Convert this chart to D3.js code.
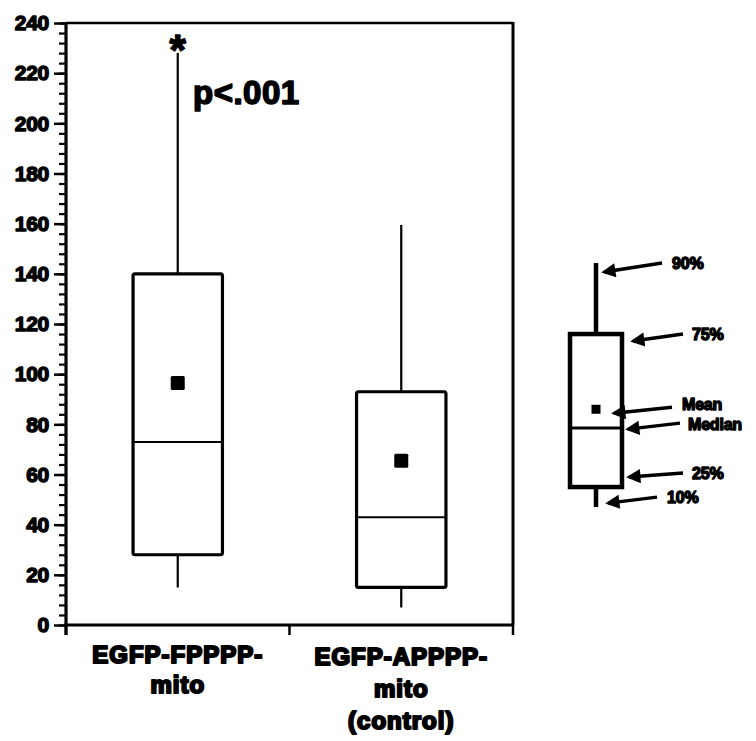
<!DOCTYPE html>
<html>
<head>
<meta charset="utf-8">
<script src="https://cdn.jsdelivr.net/npm/d3@7"></script>
<style>
  body { margin: 0; background: #fff; }
  text { font-family: "Liberation Sans", Arial, sans-serif; font-weight: bold; fill: #000; stroke: #000; stroke-linejoin: round; }
</style>
</head>
<body>
<script>
// groups and their box summaries
var groups = ["EGFP-FPPPP-|mito", "EGFP-APPPP-|mito|(control)"];
var p10 = [15, 7];
var p25 = [28, 15];
var medians = [73, 43];
var means = [96.5, 65.5];
var p75 = [140, 93];
var p90 = [228, 159.5];
var yTicks = [0, 20, 40, 60, 80, 100, 120, 140, 160, 180, 200, 220, 240];

// key box, drawn on the same value scale
var keyNames = ["10%", "25%", "Median", "Mean", "75%", "90%"];
var keyValues = [47, 55, 78.5, 86, 116, 144.3];

var width = 756, height = 741;
var svg = d3.select("body").append("svg")
  .attr("width", width)
  .attr("height", height);

var defs = svg.append("defs");
defs.append("marker")
  .attr("id", "arrow")
  .attr("viewBox", "0 0 10 10")
  .attr("refX", 8).attr("refY", 5)
  .attr("markerWidth", 5).attr("markerHeight", 4.2)
  .attr("markerUnits", "strokeWidth")
  .attr("orient", "auto")
  .append("path")
  .attr("d", "M10,5 L0,0 L0,10 Z")
  .attr("fill", "#000");

var x = d3.scaleBand().domain(groups).range([66, 513]);
var y = d3.scaleLinear().domain([0, 240]).range([625, 23]);
var boxW = x.bandwidth() * 0.4;

// frame: top and right edges
svg.append("path")
  .attr("d", "M" + x.range()[0] + "," + y(240) + "H" + x.range()[1])
  .attr("stroke", "#000").attr("stroke-width", 2.5).attr("fill", "none");
svg.append("path")
  .attr("d", "M" + x.range()[1] + "," + (y(240) - 1) + "V" + y(0))
  .attr("stroke", "#000").attr("stroke-width", 3).attr("fill", "none");

// y axis with minor ticks
var yAxis = svg.append("g").attr("transform", "translate(66,0)");
yAxis.call(d3.axisLeft(y).tickValues(d3.range(0, 241, 4)).tickSize(7).tickFormat(""));
yAxis.call(function(g) {
  g.select(".domain").remove();
  g.selectAll("line").attr("stroke-width", 2.2);
});
var yMajor = svg.append("g").attr("transform", "translate(66,0)")
  .call(d3.axisLeft(y).tickValues(yTicks).tickSize(12).tickPadding(5));
yMajor.select(".domain").attr("d", "M0," + y(240) + "V" + (y(0) + 10))
  .attr("stroke-width", 3.2);
yMajor.selectAll("line").attr("stroke-width", 2.5);
yMajor.selectAll("text")
  .attr("font-size", 21)
  .attr("letter-spacing", -0.3)
  .style("stroke-width", "1.4px")
  .attr("font-family", "'Liberation Sans', Arial, sans-serif");

// x axis with ticks at band edges
var xAxis = svg.append("g").attr("transform", "translate(0," + y(0) + ")");
xAxis.append("path")
  .attr("d", "M" + (x.range()[0] - 2) + ",0H" + (x.range()[1] + 1))
  .attr("stroke", "#000").attr("stroke-width", 2.8);
xAxis.selectAll("line.tick")
  .data([x.range()[0], x(groups[1]), x.range()[1]])
  .enter().append("line")
  .attr("x1", function(d) { return d; })
  .attr("x2", function(d) { return d; })
  .attr("y1", 0).attr("y2", 10)
  .attr("stroke", "#000").attr("stroke-width", 2.5);

// category labels
groups.forEach(function(g, i) {
  var lines = g.split("|");
  var t = svg.append("text")
    .attr("text-anchor", "middle")
    .attr("font-size", 24)
    .attr("letter-spacing", 1)
    .style("stroke-width", "2.2px");
  lines.forEach(function(l, j) {
    t.append("tspan")
      .attr("x", x(g) + x.bandwidth() / 2)
      .attr("y", 663 + i * 2 + j * (30 + i * 2))
      .text(l);
  });
});

// boxes
var box = svg.append("g").selectAll("g")
  .data(groups).enter().append("g");
box.append("line")
  .attr("x1", function(d) { return x(d) + x.bandwidth() / 2; })
  .attr("x2", function(d) { return x(d) + x.bandwidth() / 2; })
  .attr("y1", function(d, i) { return y(p90[i]); })
  .attr("y2", function(d, i) { return y(p10[i]); })
  .attr("stroke", "#000").attr("stroke-width", 2.2);
box.append("rect")
  .attr("x", function(d) { return x(d) + (x.bandwidth() - boxW) / 2; })
  .attr("width", boxW)
  .attr("y", function(d, i) { return y(p75[i]); })
  .attr("height", function(d, i) { return y(p25[i]) - y(p75[i]); })
  .attr("rx", 2)
  .attr("fill", "#fff").attr("stroke", "#000").attr("stroke-width", 3.2);
box.append("line")
  .attr("x1", function(d) { return x(d) + (x.bandwidth() - boxW) / 2; })
  .attr("x2", function(d) { return x(d) + (x.bandwidth() + boxW) / 2; })
  .attr("y1", function(d, i) { return y(medians[i]); })
  .attr("y2", function(d, i) { return y(medians[i]); })
  .attr("stroke", "#000").attr("stroke-width", 2);
box.append("rect")
  .attr("x", function(d) { return x(d) + x.bandwidth() / 2 - 7; })
  .attr("y", function(d, i) { return y(means[i]) - 7; })
  .attr("width", 14).attr("height", 14).attr("rx", 1.5)
  .attr("fill", "#000");

// significance marks
var c0 = x(groups[0]) + x.bandwidth() / 2;
svg.append("text")
  .attr("x", c0).attr("y", y(p90[0]) + 11)
  .attr("text-anchor", "middle")
  .attr("font-size", 42)
  .style("stroke-width", "1.5px")
  .text("*");
svg.append("text")
  .attr("x", 193).attr("y", 104)
  .attr("font-size", 33)
  .attr("letter-spacing", 0.5)
  .style("stroke-width", "1.6px")
  .text("p<.001");

// key box
var kx = 596, kw = 52;
var kv = {};
keyNames.forEach(function(n, i) { kv[n] = keyValues[i]; });
var key = svg.append("g");
key.append("line")
  .attr("x1", kx).attr("x2", kx)
  .attr("y1", y(kv["90%"])).attr("y2", y(kv["10%"]))
  .attr("stroke", "#000").attr("stroke-width", 4.5);
key.append("rect")
  .attr("x", kx - kw / 2).attr("width", kw)
  .attr("y", y(kv["75%"]))
  .attr("height", y(kv["25%"]) - y(kv["75%"]))
  .attr("fill", "#fff").attr("stroke", "#000").attr("stroke-width", 4.5);
key.append("line")
  .attr("x1", kx - kw / 2).attr("x2", kx + kw / 2)
  .attr("y1", y(kv["Median"])).attr("y2", y(kv["Median"]))
  .attr("stroke", "#000").attr("stroke-width", 3);
key.append("rect")
  .attr("x", kx - 4.5).attr("y", y(kv["Mean"]) - 4.5)
  .attr("width", 9).attr("height", 9)
  .attr("fill", "#000");

// arrows and labels for the key
var arrowInfo = {
  "90%":    { x0: 604, x1: 662, dy0: 9,  dy1: 0,  tx: 672, ty: 6 },
  "75%":    { x0: 633, x1: 683, dy0: 7,  dy1: 0,  tx: 692, ty: 6 },
  "Mean":   { x0: 614, x1: 672, dy0: 4,  dy1: -2, tx: 682, ty: 3 },
  "Median": { x0: 628, x1: 680, dy0: 1,  dy1: -5, tx: 688, ty: 7 },
  "25%":    { x0: 629, x1: 683, dy0: -10, dy1: -14, tx: 692, ty: 6 },
  "10%":    { x0: 608, x1: 657, dy0: -4, dy1: -10, tx: 667, ty: 6 }
};
keyNames.forEach(function(n) {
  var a = arrowInfo[n];
  var yy = y(kv[n]);
  key.append("line")
    .attr("x1", a.x1).attr("y1", yy + a.dy1)
    .attr("x2", a.x0).attr("y2", yy + a.dy0)
    .attr("stroke", "#000").attr("stroke-width", 3.4)
    .attr("marker-end", "url(#arrow)");
  key.append("text")
    .attr("x", a.tx).attr("y", yy + a.dy1 + a.ty)
    .attr("font-size", 16)
    .style("stroke-width", "1.4px")
    .attr("letter-spacing", -0.2)
    .text(n);
});
</script>
</body>
</html>
